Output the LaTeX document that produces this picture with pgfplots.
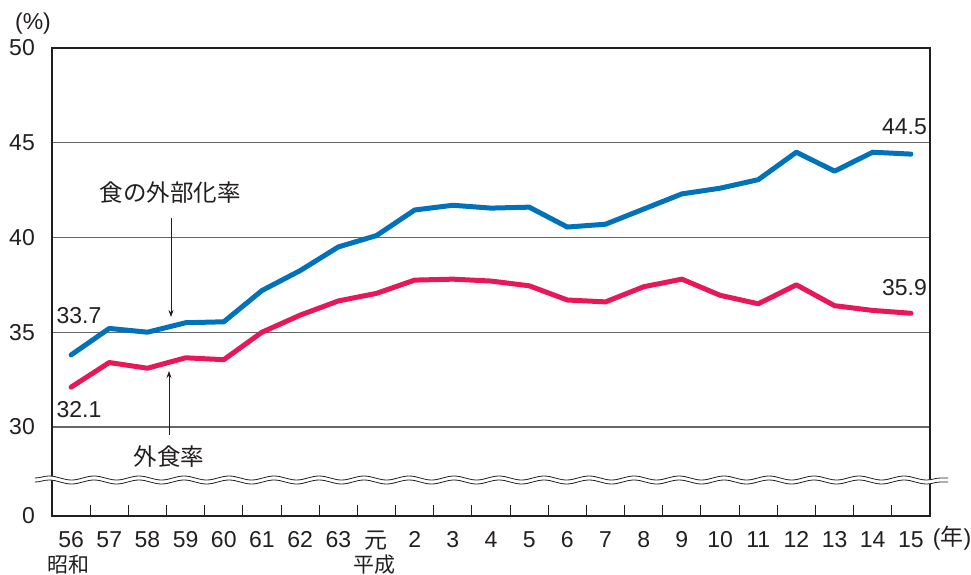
\documentclass[border=0pt]{standalone}
\usepackage{pgfplots}
\pgfplotsset{compat=1.18}
\usepackage{fontspec}
\setmainfont{Liberation Sans}
\newfontfamily\jp{Noto Sans CJK JP}
\usetikzlibrary{decorations.pathmorphing,arrows.meta}
\definecolor{cblue}{RGB}{0,114,188}
\definecolor{cpink}{RGB}{232,24,88}
\definecolor{txt}{RGB}{35,31,32}
\begin{document}
\begin{tikzpicture}[x=1pt,y=1pt]
\useasboundingbox (-52,-58) rectangle (919,516);
\begin{axis}[at={(0,0)}, anchor=south west, scale only axis,
  width=878pt, height=468pt,
  xmin=-0.5, xmax=22.5, ymin=0, ymax=24.7,
  xtick={0,...,22},
  xticklabels={56,57,58,59,60,61,62,63,{\jp 元},2,3,4,5,6,7,8,9,10,11,12,13,14,15},
  minor xtick={0.5,1.5,...,21.5},
  ytick={0,4.7,9.7,14.7,19.7,24.7},
  yticklabels={0,30,35,40,45,50},
  major tick length=0pt, minor tick length=11pt, tick align=inside,
  tick pos=left,
  minor tick style={txt, line width=1pt},
  ymajorgrids=true,
  major grid style={black!60, line width=1.1pt},
  axis line style={txt, line width=2.2pt},
  /pgf/number format/assume math mode=true,
  ticklabel style={font=\fontsize{23}{25}\selectfont, text=txt, inner sep=0pt},
  xticklabel style={anchor=north, yshift=-15pt},
  yticklabel style={anchor=east, xshift=-17pt},
]
\addplot[cblue, line width=5pt, line join=round, line cap=round] table[x=x, y expr=\thisrow{v}-25.3] {
x v
0 33.8
1 35.2
2 35.0
3 35.5
4 35.55
5 37.2
6 38.25
7 39.5
8 40.1
9 41.45
10 41.7
11 41.55
12 41.6
13 40.55
14 40.7
15 41.5
16 42.3
17 42.6
18 43.05
19 44.5
20 43.5
21 44.5
22 44.4
};
\addplot[cpink, line width=5pt, line join=round, line cap=round] table[x=x, y expr=\thisrow{v}-25.3] {
x v
0 32.1
1 33.4
2 33.1
3 33.65
4 33.55
5 35.0
6 35.9
7 36.65
8 37.05
9 37.75
10 37.8
11 37.7
12 37.45
13 36.7
14 36.6
15 37.4
16 37.8
17 36.95
18 36.5
19 37.5
20 36.4
21 36.15
22 36.0
};
\end{axis}
% axis break
\draw[white, line width=4pt, decorate, decoration={snake, segment length=45pt, amplitude=2pt}] (-17,36) -- (896,36);
\draw[txt, line width=0.8pt, decorate, decoration={snake, segment length=45pt, amplitude=2pt}] (-17,38) -- (896,38);
\draw[txt, line width=0.8pt, decorate, decoration={snake, segment length=45pt, amplitude=2pt}] (-17,34) -- (896,34);
% annotations
\tikzset{lab/.style={text=txt, inner sep=0pt, font=\fontsize{23}{25}\selectfont}}
\node[lab] at (-19,492) {(\%)};
\node[lab, font=\jp\fontsize{23.5}{25}\selectfont] at (118,323) {食の外部化率};
\node[lab, font=\jp\fontsize{23.5}{25}\selectfont] at (117,59) {外食率};
\draw[txt, line width=0.8pt, -{Stealth[length=7pt,width=5pt]}] (119,298) -- (119,199);
\draw[txt, line width=0.8pt, -{Stealth[length=7pt,width=5pt]}] (117,81) -- (117,145);
\node[lab] at (27,200) {33.7};
\node[lab] at (27,106) {32.1};
\node[lab, anchor=east] at (875,389) {44.5};
\node[lab, anchor=east] at (875,228) {35.9};
\node[lab, font=\jp\fontsize{21}{23}\selectfont] at (16,-49) {昭和};
\node[lab, font=\jp\fontsize{21}{23}\selectfont] at (322,-49) {平成};
\node[lab] at (900,-22) {(\hbox{\jp 年})};
\end{tikzpicture}
\end{document}
